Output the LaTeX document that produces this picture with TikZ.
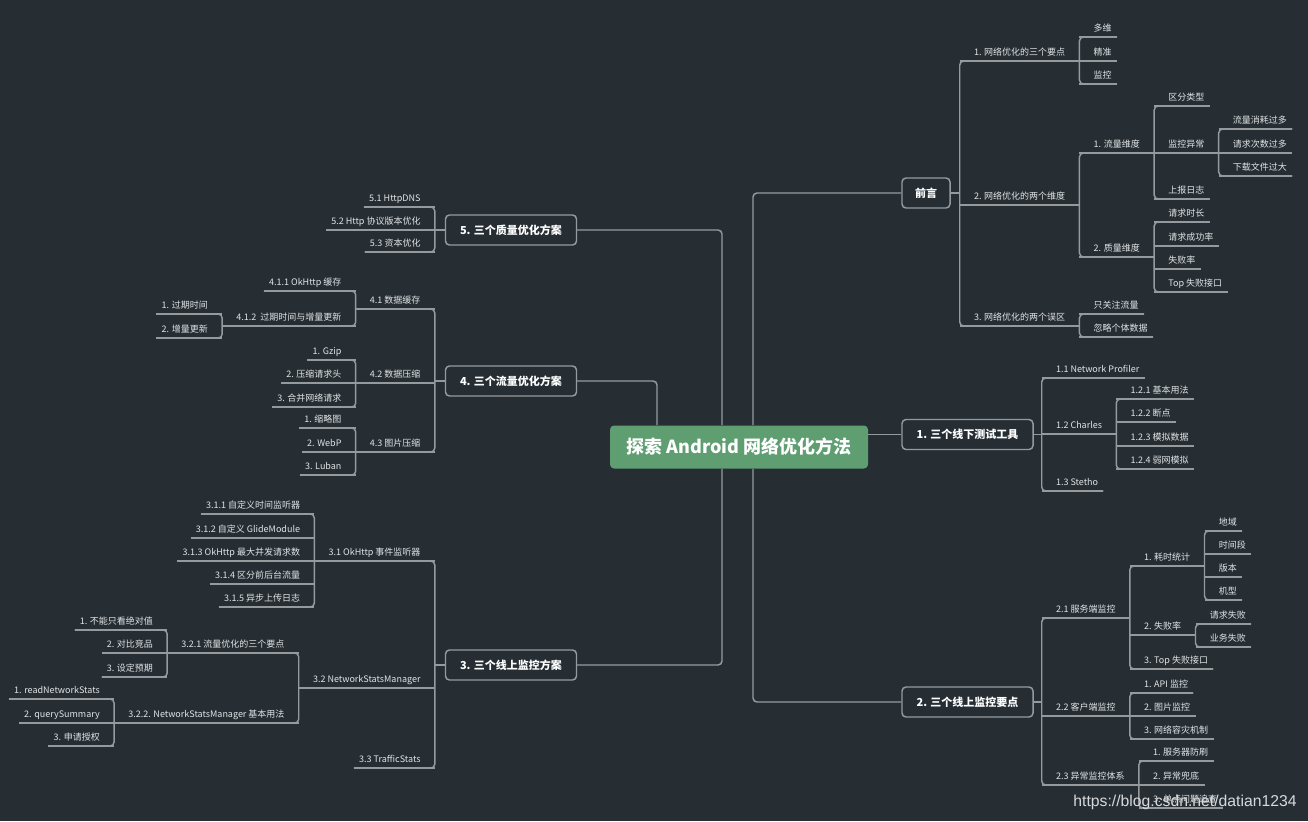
\documentclass[tikz,border=0pt]{standalone}
\usepackage{fontspec}
\setmainfont{Noto Sans CJK SC}
\newfontfamily\marksans{Liberation Sans}
\usetikzlibrary{calc}

\definecolor{bgdark}{RGB}{38,46,52}
\definecolor{linegray}{RGB}{150,154,157}
\definecolor{rootgreen}{RGB}{94,158,113}
\definecolor{txtgray}{RGB}{226,228,229}
\definecolor{markgray}{RGB}{215,218,220}

\begin{document}
\begin{tikzpicture}[
  x=0.75pt,y=-0.75pt,
  link/.style={draw=linegray,line width=1.1pt,rounded corners=3pt},
  rootbox/.style={fill=rootgreen,rounded corners=3pt,text=white,
    font=\fontsize{13.5}{16}\selectfont\bfseries,minimum width=193.5pt,minimum height=32.25pt},
  topic/.style={draw=linegray,line width=1.1pt,rounded corners=3pt,fill=bgdark,text=white,
    font=\fontsize{8.25}{10}\selectfont\bfseries,inner xsep=9.75pt,minimum height=22.5pt},
  item/.style={text=txtgray,font=\fontsize{6.75}{8}\selectfont,inner xsep=3.75pt,inner ysep=2.6pt,
    text height=6pt,text depth=1.5pt},
  rleaf/.style={item,anchor=south west,execute at begin node=\hspace*{6.75pt}},
  rsub/.style={rleaf,execute at end node=\hspace*{6.75pt}},
  lleaf/.style={item,anchor=south east,execute at end node=\hspace*{6.75pt}},
  lsub/.style={lleaf,execute at begin node=\hspace*{6.75pt}}
]
  \fill[bgdark] (0,0) rectangle (1308,821);
  \useasboundingbox (0,0) rectangle (1308,821);

  \node[rootbox] (root) at (739,447) {探索 Android 网络优化方法};

  \node[topic,minimum width=36pt] (intro) at (926,193) {前言};
  \node[topic,minimum width=98.25pt] (offline) at (967.5,434.5) {1. 三个线下测试工具};
  \node[topic,minimum width=98.25pt] (online) at (967.5,702) {2. 三个线上监控要点};
  \node[topic,minimum width=98.25pt] (monitor) at (511,665) {3. 三个线上监控方案};
  \node[topic,minimum width=98.25pt] (traffic) at (511,381) {4. 三个流量优化方案};
  \node[topic,minimum width=98.25pt] (quality) at (511,230) {5. 三个质量优化方案};

  \coordinate (introsp) at ([xshift=6.75pt]intro.east);
  \coordinate (offsp) at ([xshift=6pt]offline.east);
  \coordinate (onsp) at ([xshift=6pt]online.east);
  \coordinate (monsp) at ([xshift=-7.5pt]monitor.west);
  \coordinate (trafsp) at ([xshift=-7.5pt]traffic.west);
  \coordinate (qualsp) at ([xshift=-7.5pt]quality.west);

  % 前言
  \node[rsub] (i1) at (introsp |- 0,61) {1. 网络优化的三个要点};
  \node[rsub] (i2) at (introsp |- 0,205) {2. 网络优化的两个维度};
  \node[rsub] (i3) at (introsp |- 0,326) {3. 网络优化的两个误区};
  \node[rleaf] (i11) at (i1.south east |- 0,37) {多维};
  \node[rleaf] (i12) at (i1.south east |- 0,61) {精准};
  \node[rleaf] (i13) at (i1.south east |- 0,84) {监控};
  \node[rsub] (i21) at (i2.south east |- 0,153) {1. 流量维度};
  \node[rsub] (i22) at (i2.south east |- 0,257) {2. 质量维度};
  \node[rleaf] (i211) at (i21.south east |- 0,106) {区分类型};
  \node[rsub] (i212) at (i21.south east |- 0,153) {监控异常};
  \node[rleaf] (i213) at (i21.south east |- 0,199) {上报日志};
  \node[rleaf] (i2121) at (i212.south east |- 0,129) {流量消耗过多};
  \node[rleaf] (i2122) at (i212.south east |- 0,153) {请求次数过多};
  \node[rleaf] (i2123) at (i212.south east |- 0,176) {下载文件过大};
  \node[rleaf] (i221) at (i22.south east |- 0,222) {请求时长};
  \node[rleaf] (i222) at (i22.south east |- 0,246) {请求成功率};
  \node[rleaf] (i223) at (i22.south east |- 0,269) {失败率};
  \node[rleaf] (i224) at (i22.south east |- 0,292) {Top 失败接口};
  \node[rleaf] (i31) at (i3.south east |- 0,314) {只关注流量};
  \node[rleaf] (i32) at (i3.south east |- 0,337) {忽略个体数据};

  % 1. 三个线下测试工具
  \node[rleaf] (t1) at (offsp |- 0,378) {1.1 Network Profiler};
  \node[rsub] (t2) at (offsp |- 0,434) {1.2 Charles};
  \node[rleaf] (t3) at (offsp |- 0,491) {1.3 Stetho};
  \node[rleaf] (t21) at (t2.south east |- 0,399) {1.2.1 基本用法};
  \node[rleaf] (t22) at (t2.south east |- 0,422) {1.2.2 断点};
  \node[rleaf] (t23) at (t2.south east |- 0,446) {1.2.3 模拟数据};
  \node[rleaf] (t24) at (t2.south east |- 0,469) {1.2.4 弱网模拟};

  % 2. 三个线上监控要点
  \node[rsub] (o1) at (onsp |- 0,618) {2.1 服务端监控};
  \node[rsub] (o2) at (onsp |- 0,716) {2.2 客户端监控};
  \node[rsub] (o3) at (onsp |- 0,785) {2.3 异常监控体系};
  \node[rsub] (o11) at (o1.south east |- 0,566) {1. 耗时统计};
  \node[rsub] (o12) at (o1.south east |- 0,635) {2. 失败率};
  \node[rleaf] (o13) at (o1.south east |- 0,669) {3. Top 失败接口};
  \node[rleaf] (o111) at (o11.south east |- 0,531) {地域};
  \node[rleaf] (o112) at (o11.south east |- 0,554) {时间段};
  \node[rleaf] (o113) at (o11.south east |- 0,577) {版本};
  \node[rleaf] (o114) at (o11.south east |- 0,600) {机型};
  \node[rleaf] (o121) at (o12.south east |- 0,624) {请求失败};
  \node[rleaf] (o122) at (o12.south east |- 0,647) {业务失败};
  \node[rleaf] (o21) at (o2.south east |- 0,693) {1. API 监控};
  \node[rleaf] (o22) at (o2.south east |- 0,716) {2. 图片监控};
  \node[rleaf] (o23) at (o2.south east |- 0,739) {3. 网络容灾机制};
  \node[rleaf] (o31) at (o3.south east |- 0,761) {1. 服务器防刷};
  \node[rleaf] (o32) at (o3.south east |- 0,785) {2. 异常兜底};
  \node[rleaf] (o33) at (o3.south east |- 0,808) {3. 单点问题追查};

  % 5. 三个质量优化方案
  \node[lleaf] (q1) at (qualsp |- 0,207) {5.1 HttpDNS};
  \node[lleaf] (q2) at (qualsp |- 0,230) {5.2 Http 协议版本优化};
  \node[lleaf] (q3) at (qualsp |- 0,252) {5.3 资本优化};

  % 4. 三个流量优化方案
  \node[lsub] (f1) at (trafsp |- 0,309) {4.1 数据缓存};
  \node[lsub] (f2) at (trafsp |- 0,383) {4.2 数据压缩};
  \node[lsub] (f3) at (trafsp |- 0,452) {4.3 图片压缩};
  \node[lleaf] (f11) at (f1.south west |- 0,291) {4.1.1 OkHttp 缓存};
  \node[lsub] (f12) at (f1.south west |- 0,326) {4.1.2\ \ 过期时间与增量更新};
  \node[lleaf] (f121) at (f12.south west |- 0,314) {1. 过期时间};
  \node[lleaf] (f122) at (f12.south west |- 0,338) {2. 增量更新};
  \node[lleaf] (f21) at (f2.south west |- 0,360) {1. Gzip};
  \node[lleaf] (f22) at (f2.south west |- 0,383) {2. 压缩请求头};
  \node[lleaf] (f23) at (f2.south west |- 0,407) {3. 合并网络请求};
  \node[lleaf] (f31) at (f3.south west |- 0,428) {1. 缩略图};
  \node[lleaf] (f32) at (f3.south west |- 0,452) {2. WebP};
  \node[lleaf] (f33) at (f3.south west |- 0,475) {3. Luban};

  % 3. 三个线上监控方案
  \node[lsub] (m1) at (monsp |- 0,561) {3.1 OkHttp 事件监听器};
  \node[lsub] (m2) at (monsp |- 0,688) {3.2 NetworkStatsManager};
  \node[lleaf] (m3) at (monsp |- 0,768) {3.3 TrafficStats};
  \node[lleaf] (m11) at (m1.south west |- 0,514) {3.1.1 自定义时间监听器};
  \node[lleaf] (m12) at (m1.south west |- 0,538) {3.1.2 自定义 GlideModule};
  \node[lleaf] (m13) at (m1.south west |- 0,561) {3.1.3 OkHttp 最大并发请求数};
  \node[lleaf] (m14) at (m1.south west |- 0,584) {3.1.4 区分前后台流量};
  \node[lleaf] (m15) at (m1.south west |- 0,607) {3.1.5 异步上传日志};
  \node[lsub] (m21) at (m2.south west |- 0,653) {3.2.1 流量优化的三个要点};
  \node[lsub] (m22) at (m2.south west |- 0,723) {3.2.2. NetworkStatsManager 基本用法};
  \node[lleaf] (m211) at (m21.south west |- 0,630) {1. 不能只看绝对值};
  \node[lleaf] (m212) at (m21.south west |- 0,653) {2. 对比竞品};
  \node[lleaf] (m213) at (m21.south west |- 0,677) {3. 设定预期};
  \node[lleaf] (m221) at (m22.south west |- 0,699) {1. readNetworkStats};
  \node[lleaf] (m222) at (m22.south west |- 0,723) {2. querySummary};
  \node[lleaf] (m223) at (m22.south west |- 0,746) {3. 申请授权};

  % underlines
  \foreach \n in {i1,i2,i3,i11,i12,i13,i21,i22,i211,i212,i213,i2121,i2122,i2123,
      i221,i222,i223,i224,i31,i32,t1,t2,t3,t21,t22,t23,t24,o1,o2,o3,o11,o12,o13,
      o111,o112,o113,o114,o121,o122,o21,o22,o23,o31,o32,o33,q1,q2,q3,f1,f2,f3,
      f11,f12,f121,f122,f21,f22,f23,f31,f32,f33,m1,m2,m3,m11,m12,m13,m14,m15,
      m21,m22,m211,m212,m213,m221,m222,m223}
    \draw[link] (\n.south west) -- (\n.south east);

  % spines
  \foreach \a/\b in {i1/i3,i11/i13,i21/i22,i211/i213,i2121/i2123,i221/i224,i31/i32,
      t1/t3,t21/t24,o1/o3,o11/o13,o111/o114,o121/o122,o21/o23,o31/o33}
    \draw[link] (\a.south east) -- (\a.south west) -- (\b.south west) -- (\b.south east);
  \foreach \a/\b in {q1/q3,f1/f3,f11/f12,f121/f122,f21/f23,f31/f33,m1/m3,m11/m15,
      m21/m22,m211/m213,m221/m223}
    \draw[link] (\a.south west) -- (\a.south east) -- (\b.south east) -- (\b.south west);

  \draw[link] (intro.east) -- (introsp);
  \draw[link] (offline.east) -- (offsp);
  \draw[link] (online.east) -- (onsp);
  \draw[link] (monitor.west) -- (monsp);
  \draw[link] (traffic.west) -- (trafsp);
  \draw[link] (quality.west) -- (qualsp);

  \draw[link] ([xshift=10.5pt]root.north) |- (intro.west);
  \draw[link] (root.east |- offline.west) -- (offline.west);
  \draw[link] ([xshift=10.5pt]root.south) |- (online.west);
  \draw[link] ([xshift=-12.75pt]root.north) |- (quality.east);
  \draw[link] ([xshift=-61.5pt]root.north) |- (traffic.east);
  \draw[link] ([xshift=-12.75pt]root.south) |- (monitor.east);

  \node[font=\marksans\fontsize{11.8}{14}\selectfont,text=markgray] (mark) at (1185,802)
    {https://blog.csdn.net/datian1234};
\end{tikzpicture}
\end{document}
